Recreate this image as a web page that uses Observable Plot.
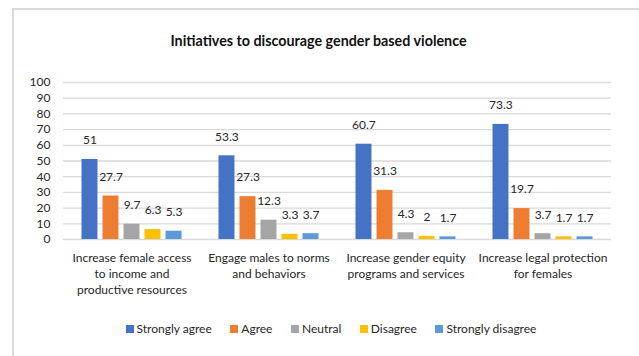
<!DOCTYPE html>
<html><head><meta charset="utf-8">
<script src="https://cdn.jsdelivr.net/npm/d3@7"></script>
<script src="https://cdn.jsdelivr.net/npm/@observablehq/plot@0.6"></script>
<style>
body{margin:0;background:#fff;font-family:Lato,"Open Sans",sans-serif;}
#wrap{position:relative;width:639px;height:356px;overflow:hidden;background:#fff}
#frame{position:absolute;left:12px;top:8px;width:700px;height:400px;border-top:2px solid #d9d9d9;border-left:2px solid #d9d9d9;box-sizing:border-box}
#title{position:absolute;top:32px;left:0;width:637px;text-align:center;font-weight:bold;font-size:14.3px;line-height:18px;color:#111}
#chart{position:absolute;left:0;top:0}
#legend{position:absolute;top:321px;left:0;width:662px;display:flex;justify-content:center;gap:18.5px;font-size:12px;line-height:16px;color:#262626}
#legend .it{display:flex;align-items:center}
#legend .sw{width:8px;height:8px;margin-right:3px}
</style>
</head><body>
<div id="wrap">
<div id="frame"></div>
<div id="title">Initiatives to discourage gender based violence</div>
<div id="chart"></div>
<div id="legend"></div>
</div>
<script>
const categories = [
  "Increase female access\nto income and\nproductive resources",
  "Engage males to norms\nand behaviors",
  "Increase gender equity\nprograms and services",
  "Increase legal protection\nfor females"
];
const responses = ["Strongly agree", "Agree", "Neutral", "Disagree", "Strongly disagree"];
const stronglyAgree = [51, 53.3, 60.7, 73.3];
const agree = [27.7, 27.3, 31.3, 19.7];
const neutral = [9.7, 12.3, 4.3, 3.7];
const disagree = [6.3, 3.3, 2, 1.7];
const stronglyDisagree = [5.3, 3.7, 1.7, 1.7];
const colors = ["#4472C4", "#ED7D31", "#A5A5A5", "#FFC000", "#5B9BD5"];
const yTicks = [0, 10, 20, 30, 40, 50, 60, 70, 80, 90, 100];

const series = [stronglyAgree, agree, neutral, disagree, stronglyDisagree];
const data = [];
categories.forEach((c, i) => {
  responses.forEach((r, j) => {
    data.push({category: c, response: r, value: series[j][i]});
  });
});

const chart = Plot.plot({
  width: 639,
  height: 300,
  marginLeft: 63,
  marginRight: 28,
  marginTop: 82,
  marginBottom: 61,
  style: {fontFamily: "Lato, 'Open Sans', sans-serif", color: "#262626", background: "transparent"},
  fx: {domain: categories, padding: 0, round: false, label: null},
  x: {domain: responses, paddingInner: 0.24, paddingOuter: 0.88, round: false, axis: null},
  y: {domain: [0, 100], label: null},
  color: {domain: responses, range: colors},
  marks: [
    Plot.gridY(yTicks, {stroke: "#d9d9d9", strokeOpacity: 1, strokeWidth: 1.3}),
    Plot.axisY(yTicks, {tickSize: 0, tickPadding: 13, fontSize: 12, label: null, fill: "#262626"}),
    Plot.axisFx({anchor: "bottom", tickSize: 0, tickPadding: 11, fontSize: 12, lineHeight: 1.33, label: null, fill: "#262626"}),
    Plot.barY(data, {fx: "category", x: "response", y: "value", fill: "response"}),
    Plot.text(data, {fx: "category", x: "response", y: "value", text: d => String(d.value), dy: -19, fontSize: 12, fill: "#262626"})
  ]
});
document.getElementById("chart").appendChild(chart);

const legend = document.getElementById("legend");
responses.forEach((r, j) => {
  const it = document.createElement("div");
  it.className = "it";
  const sw = document.createElement("span");
  sw.className = "sw";
  sw.style.background = colors[j];
  const t = document.createElement("span");
  t.textContent = r;
  it.appendChild(sw); it.appendChild(t);
  legend.appendChild(it);
});
</script>
</body></html>
